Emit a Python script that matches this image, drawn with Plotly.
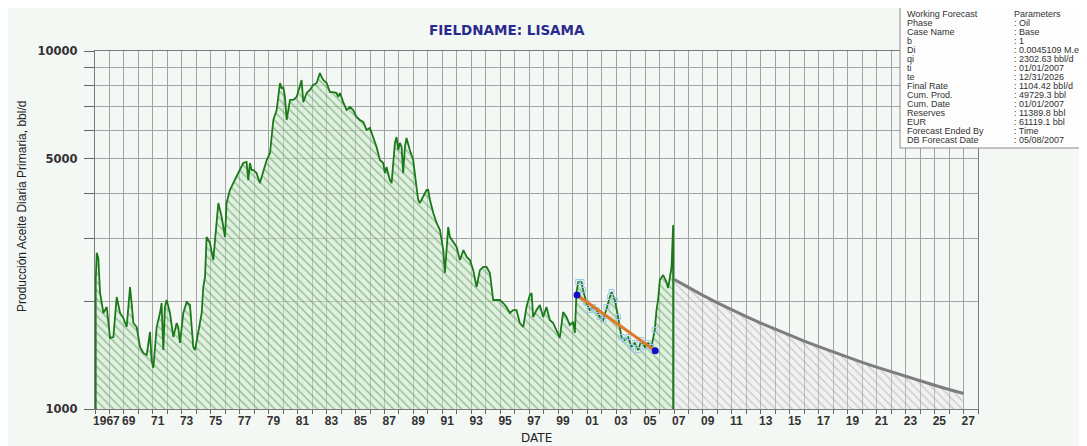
import plotly.graph_objects as go

# ---------------- data ----------------
hist_years = [1967.05, 1967.12, 1967.23, 1967.35, 1967.58, 1967.81, 1968.04, 1968.27, 1968.50, 1968.73,
              1968.96, 1969.19, 1969.42, 1969.53, 1969.65, 1969.88, 1970.11, 1970.34, 1970.57, 1970.80,
              1970.91, 1971.03, 1971.26, 1971.49, 1971.60, 1971.72, 1971.83, 1971.95, 1972.18, 1972.41,
              1972.64, 1972.75, 1972.87, 1973.10, 1973.33, 1973.56, 1973.79, 1973.91, 1974.14, 1974.37,
              1974.48, 1974.60, 1974.71, 1974.94, 1975.17, 1975.40, 1975.52, 1975.75, 1975.98, 1976.09,
              1976.32, 1976.55, 1977.01, 1977.24, 1977.47, 1977.59, 1977.70, 1977.82, 1977.93, 1978.16,
              1978.39, 1978.63, 1978.86, 1979.09, 1979.32, 1979.55, 1979.78, 1979.89, 1980.01, 1980.12,
              1980.24, 1980.47, 1980.70, 1980.93, 1981.16, 1981.27, 1981.39, 1981.62, 1981.85, 1982.08,
              1982.31, 1982.54, 1982.65, 1982.77, 1983.00, 1983.23, 1983.46, 1983.69, 1983.80, 1983.92,
              1984.15, 1984.38, 1984.61, 1984.84, 1985.07, 1985.30, 1985.53, 1985.76, 1985.99, 1986.22,
              1986.45, 1986.68, 1986.91, 1987.03, 1987.14, 1987.37, 1987.49, 1987.72, 1987.83, 1987.95,
              1988.06, 1988.18, 1988.29, 1988.41, 1988.52, 1988.75, 1988.98, 1989.21, 1989.33, 1989.44,
              1989.67, 1989.91, 1990.02, 1990.14, 1990.37, 1990.60, 1990.83, 1991.06, 1991.17, 1991.29,
              1991.40, 1991.52, 1991.75, 1991.98, 1992.21, 1992.45, 1992.68, 1992.90, 1993.13, 1993.36,
              1993.59, 1993.82, 1994.05, 1994.28, 1994.51, 1994.74, 1994.97, 1995.20, 1995.43, 1995.66,
              1995.89, 1996.12, 1996.35, 1996.58, 1996.81, 1997.04, 1997.16, 1997.27, 1997.50, 1997.73,
              1997.96, 1998.19, 1998.42, 1998.65, 1998.88, 1999.11, 1999.34, 1999.57, 1999.80, 2000.03,
              2000.15, 2000.26, 2000.38, 2000.61, 2000.72, 2000.95, 2001.18, 2001.42, 2001.65, 2001.88,
              2002.11, 2002.34, 2002.57, 2002.68, 2002.91, 2003.14, 2003.37, 2003.60, 2003.83, 2004.06,
              2004.29, 2004.52, 2004.75, 2004.98, 2005.21, 2005.44, 2005.67, 2005.79, 2005.90, 2006.02,
              2006.25, 2006.48, 2006.59, 2006.71, 2006.83, 2006.94]
hist_rates = [2280, 2730, 2640, 2109, 1854, 1927, 1579, 1589, 2055, 1854,
              1795, 1694, 2192, 1977, 1739, 1694, 1490, 1434, 1415, 1641,
              1370, 1302, 1694, 1854, 1977, 1461, 1927, 2016, 1854, 1589,
              1739, 1694, 1529, 1854, 1990, 1952, 1490, 1461, 1631, 1854,
              2192, 2337, 3022, 2910, 2606, 3438, 3762, 3438, 3022, 3762,
              4090, 4275, 4650, 4865, 4900, 4360, 4865, 4650, 4650, 4560,
              4275, 4650, 4960, 5190, 6415, 6840, 8140, 7880, 7910, 7440,
              6415, 7300, 7300, 7440, 8035, 8300, 7200, 7630, 7780, 8035,
              8140, 8680, 8470, 8300, 8140, 7680, 7680, 7630, 7440, 7630,
              7200, 6840, 6975, 6840, 6540, 6415, 6335, 6020, 6100, 5750,
              5395, 4960, 4865, 4560, 4740, 4360, 4275, 5535, 5750, 5290,
              5535, 5395, 4560, 5395, 5715, 5290, 4960, 4170, 3835, 3762,
              3910, 4090, 4090, 3835, 3527, 3308, 3162, 2780, 2398, 2835,
              3224, 3022, 2928, 2835, 2606, 2780, 2659, 2606, 2443, 2192,
              2443, 2493, 2493, 2398, 2016, 2016, 2016, 1977, 1927, 1854,
              1890, 1890, 1739, 1694, 1927, 2082, 2109, 1807, 1890, 1952,
              1807, 1927, 1773, 1739, 1663, 1579, 1866, 1807, 1717, 1750,
              1631, 2109, 2263, 2263, 2150, 1977, 1890, 1927, 1890, 1807,
              1773, 1927, 2055, 2123, 2016, 1807, 1589, 1558, 1589, 1490,
              1529, 1461, 1558, 1490, 1529, 1490, 1663, 1890, 2016, 2293,
              2367, 2263, 2178, 2322, 2493, 3266]

fc_years = [2007, 2008, 2009, 2010, 2011, 2012, 2013, 2014, 2015, 2016, 2017,
            2018, 2019, 2020, 2021, 2022, 2023, 2024, 2025, 2026, 2027]
fc_rates = [2302.6, 2184, 2077, 1980, 1892, 1811, 1737, 1669, 1606, 1547, 1493,
            1442, 1395, 1350, 1309, 1270, 1233, 1198, 1165, 1134, 1104.4]

fit_years = [2000.3, 2005.7]
fit_rates = [2082, 1455]

param_labels = ["Working Forecast", "Phase", "Case Name", "b", "Di", "qi", "ti", "te",
                "Final Rate", "Cum. Prod.", "Cum. Date", "Reserves", "EUR",
                "Forecast Ended By", "DB Forecast Date"]
param_values = ["Parameters", ": Oil", ": Base", ": 1", ": 0.0045109 M.e", ": 2302.63 bbl/d",
                ": 01/01/2007", ": 12/31/2026", ": 1104.42 bbl/d", ": 49729.3 bbl",
                ": 01/01/2007", ": 11389.8 bbl", ": 61119.1 bbl", ": Time", ": 05/08/2007"]

title_text = "FIELDNAME: LISAMA"
y_title = "Producción Aceite Diaria Primaria, bbl/d"
x_title = "DATE"

x_tick_years = list(range(1967, 2029))
x_tick_labels = ["1967" if yr == 1967 else (f"{yr % 100:02d}" if yr % 2 == 1 else "") for yr in x_tick_years]
y_tick_vals = [1000, 2000, 3000, 4000, 5000, 6000, 7000, 8000, 9000, 10000]
y_tick_labels = ["1000", "", "", "", "5000", "", "", "", "", "10000"]

floor_rate = 1000

# ---------------- geometry helpers (page pixels -> paper) ----------------
OFF = 8  # page offset of the figure inside the html body
W, H = 1087 - OFF, 446 - OFF
PLOT_L, PLOT_R, PLOT_T, PLOT_B = 95, 978, 51, 409   # page pixels
ML, MT = PLOT_L - OFF, PLOT_T - OFF
MR = W - (PLOT_R - OFF)
MB = H - (PLOT_B - OFF)
PW, PH = PLOT_R - PLOT_L, PLOT_B - PLOT_T


def px(xp):
    return (xp - PLOT_L) / PW


def py(yp):
    return (PLOT_B - yp) / PH


BG = "#f4f8f4"
GRID = "#a3a3a3"

fig = go.Figure()

# historical fill (hatched green)
fig.add_trace(go.Scatter(
    x=[hist_years[0]] + hist_years + [hist_years[-1]],
    y=[floor_rate] + hist_rates + [floor_rate],
    mode="lines", fill="toself", line=dict(width=0, color="rgba(0,0,0,0)"),
    fillcolor="rgba(0,0,0,0)",
    fillpattern=dict(shape="\\", fgcolor="#4a924a", bgcolor="rgba(205,232,205,0.5)",
                     size=6, solidity=0.25),
    hoverinfo="skip"))

# forecast fill (hatched grey)
fig.add_trace(go.Scatter(
    x=[fc_years[0]] + fc_years + [fc_years[-1]],
    y=[floor_rate] + fc_rates + [floor_rate],
    mode="lines", fill="toself", line=dict(width=0, color="rgba(0,0,0,0)"),
    fillcolor="rgba(0,0,0,0)",
    fillpattern=dict(shape="\\", fgcolor="#a0a0a0", bgcolor="rgba(232,232,232,0.35)",
                     size=6, solidity=0.22),
    hoverinfo="skip"))

# historical line
fig.add_trace(go.Scatter(
    x=[hist_years[0]] + hist_years + [hist_years[-1]],
    y=[floor_rate] + hist_rates + [floor_rate],
    mode="lines", line=dict(color="#1a7a1a", width=1.8)))

# forecast line
fig.add_trace(go.Scatter(x=fc_years, y=fc_rates, mode="lines",
                         line=dict(color="#7d7d7d", width=3)))

# fit-range markers on data
sel_x = [x for x in hist_years if fit_years[0] <= x <= fit_years[1]]
sel_y = [r for x, r in zip(hist_years, hist_rates) if fit_years[0] <= x <= fit_years[1]]
fig.add_trace(go.Scatter(x=sel_x, y=sel_y, mode="markers",
                         marker=dict(symbol="square-open", size=5, color="#9cc8ec", line=dict(width=1))))

# fit line
fig.add_trace(go.Scatter(x=fit_years, y=fit_rates, mode="lines",
                         line=dict(color="#e0782a", width=3)))
fig.add_trace(go.Scatter(x=fit_years, y=fit_rates, mode="markers",
                         marker=dict(symbol="circle", size=7, color="#1010c8")))

fig.update_layout(
    width=W, height=H,
    margin=dict(l=ML, r=MR, t=MT, b=MB, autoexpand=False),
    paper_bgcolor=BG, plot_bgcolor=BG,
    showlegend=False,
    xaxis=dict(range=[1967, 2028], tickmode="array", tickvals=x_tick_years, ticktext=x_tick_labels,
               ticks="outside", ticklen=4, tickcolor="#666", ticklabelposition="outside right",
               ticklabelshift=-3, tickangle=0, automargin=False,
               tickfont=dict(family="Liberation Sans", size=12, color="#333", weight="bold"),
               showgrid=True, gridcolor=GRID, gridwidth=1, zeroline=False,
               showline=True, linecolor="#7a7a7a", linewidth=1.2, mirror=True),
    yaxis=dict(type="log", range=[3, 4], tickmode="array", tickvals=y_tick_vals, ticktext=y_tick_labels,
               ticks="outside", ticklen=10, tickcolor="#666", ticklabelstandoff=4, automargin=False,
               tickfont=dict(family="DejaVu Sans", size=11.5, color="#333", weight="bold"),
               showgrid=True, gridcolor=GRID, gridwidth=1, zeroline=False,
               showline=True, linecolor="#7a7a7a", linewidth=1.2, mirror=True),
)

annotations = [
    dict(text=title_text, x=px(507), y=py(30), xref="paper", yref="paper", showarrow=False,
         xanchor="center", yanchor="middle",
         font=dict(family="DejaVu Sans", size=13.5, color="#2a2a8e", weight="bold")),
    dict(text=y_title, x=px(22), y=py(207), xref="paper", yref="paper", showarrow=False,
         xanchor="center", yanchor="middle", textangle=-90,
         font=dict(family="Liberation Sans", size=12, color="#222")),
    dict(text=x_title, x=px(536), y=py(438), xref="paper", yref="paper", showarrow=False,
         xanchor="center", yanchor="middle",
         font=dict(family="DejaVu Sans", size=12, color="#222")),
]

for i, (lab, val) in enumerate(zip(param_labels, param_values)):
    yy = 14.5 + i * 8.93
    annotations.append(dict(text=lab, x=px(906), y=py(yy), xref="paper", yref="paper", showarrow=False,
                            xanchor="left", yanchor="middle", borderpad=0,
                            font=dict(family="Liberation Sans", size=9, color="#333")))
    annotations.append(dict(text=val, x=px(1013), y=py(yy), xref="paper", yref="paper", showarrow=False,
                            xanchor="left", yanchor="middle", borderpad=0,
                            font=dict(family="Liberation Sans", size=9, color="#333")))

fig.update_layout(annotations=annotations)

fig.add_shape(type="rect", xref="paper", yref="paper",
              x0=px(900), x1=px(1086), y0=py(148), y1=py(3),
              fillcolor="#fcfdfc", line=dict(color="#8a8a8a", width=1), layer="above")

fig.write_html("out.html")
